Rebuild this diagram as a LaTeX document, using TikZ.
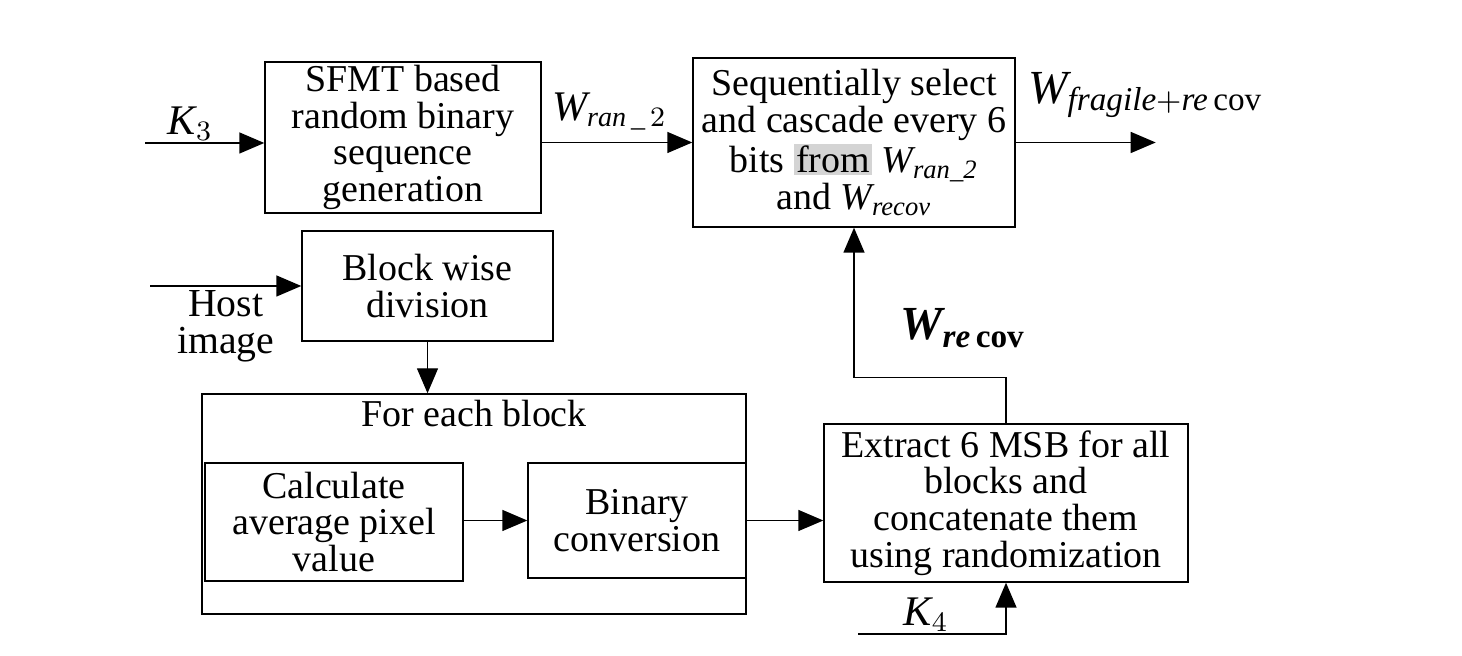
\documentclass[tikz,border=0pt]{standalone}
\usepackage{amsmath}
\usepackage{fontspec}
\setmainfont{Liberation Serif}
\usepackage{tikz}
\usetikzlibrary{shapes,arrows.meta,positioning,calc}
\tikzstyle{block} = [draw, rectangle, inner sep=0pt, align=center,
    font=\fontsize{10.8}{10.4}\selectfont]
\tikzstyle{input} = [coordinate]
\tikzstyle{output} = [coordinate]
\tikzstyle{lbl} = [font=\fontsize{12}{13}\selectfont]
\tikzstyle{biglbl} = [font=\fontsize{13.5}{15}\selectfont]
\newcommand{\mi}[1]{\textit{#1}}
\newcommand{\hlt}[1]{{\setlength{\fboxsep}{0.6pt}\colorbox{black!17}{#1}}}

\begin{document}
\begin{tikzpicture}[auto, >={Triangle[length=2.5mm,width=2.1mm]}]
        \useasboundingbox (0,0) rectangle (14.62,6.56);
        % We start by placing the blocks
        \node [block, minimum width=2.76cm, minimum height=1.51cm] (sfmt) at (4.03,5.185)
            {SFMT based\\random binary\\sequence\\generation};
        \node [block, minimum width=3.22cm, minimum height=1.69cm] (cascade) at (8.54,5.135)
            {Sequentially select\\and cascade every 6\\bits \hlt{from} $\mi{W}_{\mi{ran\_2}}$\\and $\mi{W}_{\mi{recov}}$};
        \node [block, minimum width=2.51cm, minimum height=1.10cm] (division) at (4.275,3.70)
            {Block wise\\division};
        \node [block, minimum width=5.44cm, minimum height=2.20cm] (foreach) at (4.74,1.52) {};
        \node [below=0.03cm of foreach.north, inner sep=1pt, font=\fontsize{10.8}{10.4}\selectfont] (fetitle) {For each block};
        \node [block, minimum width=2.58cm, minimum height=1.18cm] (average) at (3.34,1.34)
            {Calculate\\average pixel\\value};
        \node [block, minimum width=2.18cm, minimum height=1.15cm] (binary) at (6.37,1.355)
            {Binary\\conversion};
        \node [block, minimum width=3.64cm, minimum height=1.58cm] (extract) at (10.06,1.53)
            {Extract 6 MSB for all\\blocks and\\concatenate them\\using randomization};
        \node [input] (k3in) at (1.45,5.13) {};
        \node [input] (hostin) at (1.50,3.70) {};
        \node [input] (k4in) at (8.58,0.22) {};
        \node [output, right=1.4cm of cascade.east] (out) {};

        % Once the nodes are placed, connecting them is easy.
        \draw [->] (k3in) -- node [lbl, pos=0.38, inner sep=0.5pt] {$\mi{K}_3$} (k3in -| sfmt.west);
        \draw [->] (sfmt.east |- cascade.west) -- node [lbl, pos=0.45] {$\mi{W}_{\mi{ran}\,\_\,2}$} (cascade.west);
        \draw [->] (cascade.east) -- (out);
        \node [biglbl, above right=0.12cm and 0.0cm of cascade.east] (wfr)
            {$\mi{W}_{\mi{fragile}+\mi{re}\,\mathrm{cov}}$};
        \draw [->] (hostin) -- node [pos=0.5, below, inner sep=1pt, align=center, font=\fontsize{11.3}{10.5}\selectfont] (host)
            {Host\\image} (division.west);
        \draw [->] (division.south) -- (division.south |- foreach.north);
        \draw [->] (average.east |- binary.west) -- (binary.west);
        \draw [->] (binary.east) -- (binary.east -| extract.west);
        \draw [->] (extract.north) -- ++(0,0.46) -| (cascade.south);
        \node [biglbl] (wrc) at (9.63,3.28) {\bfseries $\mi{W}_{\mi{re}\,\textbf{cov}}$};
        \draw [->] (k4in) -| node [lbl, pos=0.23, inner sep=0.5pt] {$\mi{K}_4$} (extract.south);
    \end{tikzpicture}
\end{document}
